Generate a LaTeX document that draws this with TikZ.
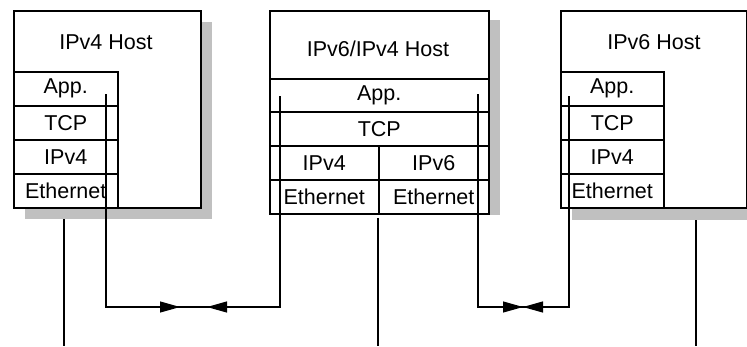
\documentclass[tikz,border=0pt]{standalone}
\usepackage{fontspec}
\setmainfont{Liberation Sans}
\usetikzlibrary{arrows.meta}
\definecolor{shadowgray}{RGB}{192,192,192}

\begin{document}
\begin{tikzpicture}[x=1pt, y=-1pt, line width=1.5pt,
  box/.style={draw, fill=white, inner sep=0pt, anchor=north west,
    font=\fontsize{21.5}{24}\selectfont},
  title/.style={inner sep=0pt, font=\fontsize{21.5}{24}\selectfont},
  wire/.style={line width=1.1pt},
  tip/.style={-{Triangle[length=20pt, width=11pt]}}]
  \clip (0,0) rectangle (747,346);
  % Schatten
  \fill[shadowgray] (25,22) rectangle (212,219);
  \fill[shadowgray] (281,20) rectangle (500,215);
  \fill[shadowgray] (572,22) rectangle (760,220);
  % IPv4 Host
  \node[box, minimum width=187pt, minimum height=197pt] (l-host) at (13,10) {};
  \node[title] (l-title) at (106,42) {IPv4 Host};
  \node[box, minimum width=104pt, minimum height=34pt] (l-app) at (13,71) {App.};
  \node[box, minimum width=104pt, minimum height=34pt] (l-tcp) at (13,105) {TCP};
  \node[box, minimum width=104pt, minimum height=34pt] (l-ip) at (13,139) {IPv4};
  \node[box, minimum width=104pt, minimum height=34pt] (l-eth) at (13,173) {Ethernet};
  % IPv6/IPv4 Host
  \node[box, minimum width=219pt, minimum height=203pt] (m-host) at (269,10) {};
  \node[title] (m-title) at (378,49) {IPv6/IPv4 Host};
  \node[box, minimum width=219pt, minimum height=33pt] (m-app) at (269,78) {App.};
  \node[box, minimum width=219pt, minimum height=34pt] (m-tcp) at (269,111) {TCP};
  \node[box, minimum width=109pt, minimum height=34pt] (m-ip4) at (269,145) {IPv4};
  \node[box, minimum width=110pt, minimum height=34pt] (m-ip6) at (378,145) {IPv6};
  \node[box, minimum width=109pt, minimum height=34pt] (m-eth4) at (269,179) {Ethernet};
  \node[box, minimum width=110pt, minimum height=34pt] (m-eth6) at (378,179) {Ethernet};
  % IPv6 Host
  \node[box, minimum width=186pt, minimum height=197pt] (r-host) at (560,10) {};
  \node[title] (r-title) at (654,42) {IPv6 Host};
  \node[box, minimum width=103pt, minimum height=34pt] (r-app) at (560,71) {App.};
  \node[box, minimum width=103pt, minimum height=34pt] (r-tcp) at (560,105) {TCP};
  \node[box, minimum width=103pt, minimum height=34pt] (r-ip) at (560,139) {IPv4};
  \node[box, minimum width=103pt, minimum height=34pt] (r-eth) at (560,173) {Ethernet};
  % Verbindungspunkte
  \coordinate (l-top) at (106,94);
  \coordinate (l-bot) at (106,307);
  \coordinate (ml-top) at (280,96);
  \coordinate (ml-bot) at (280,307);
  \coordinate (mr-top) at (478,94);
  \coordinate (mr-bot) at (478,307);
  \coordinate (r-top) at (569,96);
  \coordinate (r-bot) at (569,307);
  \coordinate (a1) at (180,307);
  \coordinate (a2) at (207,307);
  \coordinate (a3) at (523,307);
  \coordinate (a4) at (523,307);
  % Tunnel IPv4 - IPv6/IPv4
  \draw[wire] (l-top) -- (l-bot) -- (ml-bot) -- (ml-top);
  \draw[wire, tip] (l-bot) -- (a1);
  \draw[wire, tip] (ml-bot) -- (a2);
  % Tunnel IPv6/IPv4 - IPv6
  \draw[wire] (mr-top) -- (mr-bot) -- (r-bot) -- (r-top);
  \draw[wire, tip] (mr-bot) -- (a3);
  \draw[wire, tip] (r-bot) -- (a4);
  % Netze
  \coordinate (l-net) at (64,219);
  \coordinate (m-net) at (378,218);
  \coordinate (r-net) at (696,220);
  \draw[wire] (l-net) -- (64,346);
  \draw[wire] (m-net) -- (378,346);
  \draw[wire] (r-net) -- (696,346);
\end{tikzpicture}
\end{document}
